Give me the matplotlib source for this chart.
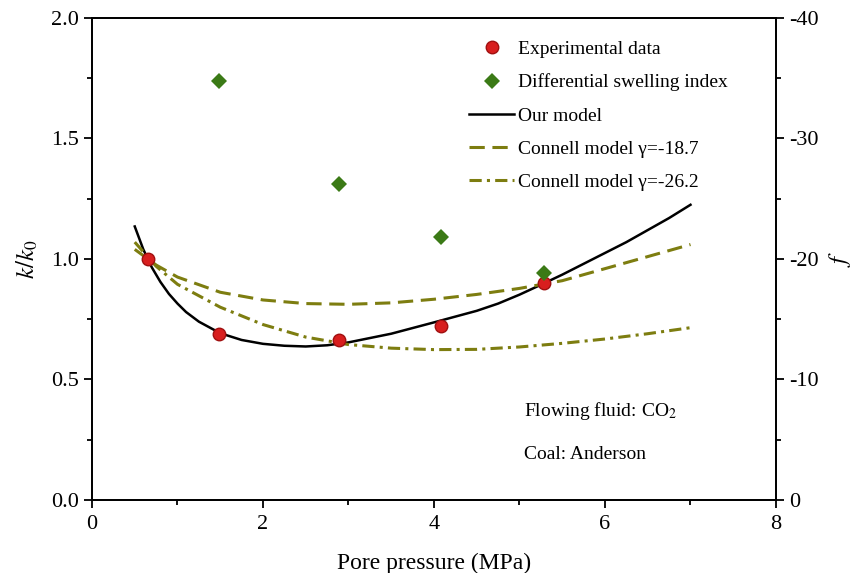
import matplotlib
matplotlib.use("Agg")
import matplotlib.pyplot as plt
from matplotlib.ticker import MultipleLocator

plt.rcParams['font.family'] = ['Liberation Serif', 'DejaVu Serif']
plt.rcParams['mathtext.fontset'] = 'stix'
plt.rcParams['axes.unicode_minus'] = False

# Experimental data (left axis)
p_exp = [0.65, 1.48, 2.89, 4.08, 5.29]
k_exp = [1.0, 0.69, 0.665, 0.72, 0.9]

# Differential swelling index (right axis)
p_f = [1.48, 2.89, 4.08, 5.29]
f_vals = [-34.8, -26.2, -21.8, -18.8]

# Our model
p_model = [0.5, 0.6, 0.7, 0.8, 0.9, 1.0, 1.1, 1.25, 1.5, 1.75, 2.0, 2.25,
           2.5, 2.75, 3.0, 3.5, 4.0, 4.5, 4.75, 5.0, 5.25, 5.5, 5.75, 6.0,
           6.25, 6.5, 6.75, 7.0]
k_model = [1.135, 1.04, 0.965, 0.905, 0.855, 0.815, 0.78, 0.74, 0.692, 0.664,
           0.648, 0.64, 0.637, 0.642, 0.654, 0.69, 0.737, 0.785, 0.815, 0.852,
           0.893, 0.935, 0.98, 1.025, 1.07, 1.12, 1.17, 1.225]

# Connell model gamma = -18.7
p_c1 = [0.5, 0.75, 1.0, 1.5, 2.0, 2.5, 3.0, 3.5, 4.0, 4.5, 5.0, 5.5, 6.0, 6.5, 7.0]
k_c1 = [1.04, 0.975, 0.925, 0.862, 0.83, 0.815, 0.812, 0.818, 0.833, 0.853,
        0.878, 0.91, 0.96, 1.01, 1.06]

# Connell model gamma = -26.2
p_c2 = [0.5, 0.75, 1.0, 1.5, 2.0, 2.5, 3.0, 3.5, 4.0, 4.5, 5.0, 5.5, 6.0, 6.5, 7.0]
k_c2 = [1.07, 0.97, 0.895, 0.80, 0.728, 0.676, 0.645, 0.63, 0.624, 0.625,
        0.635, 0.65, 0.668, 0.69, 0.715]

olive = '#7d7d10'

fig = plt.figure(figsize=(8.55, 5.73), dpi=100)
ax = fig.add_axes([0.1076, 0.1274, 0.8, 0.8412])
ax2 = ax.twinx()

l1, = ax.plot(p_model, k_model, color='black', lw=1.8, label='Our model')
l2, = ax.plot(p_c1, k_c1, color=olive, lw=2.2, ls=(0, (5, 2.5)),
              label='Connell model \u03b3=-18.7')
l3, = ax.plot(p_c2, k_c2, color=olive, lw=2.2, ls=(0, (4, 1.7, 1, 1.7)),
              label='Connell model \u03b3=-26.2')
s1, = ax.plot(p_exp, k_exp, 'o', color='#d81e1e', mec='#a01010', mew=1,
              ms=9, label='Experimental data', zorder=5)
s2, = ax2.plot(p_f, f_vals, 'D', color='#3b7a16', ms=8, mew=0,
               label='Differential swelling index')

ax.set_xlim(0, 8)
ax.set_ylim(0, 2.0)
ax2.set_ylim(0, -40)

ax.xaxis.set_major_locator(MultipleLocator(2))
ax.xaxis.set_minor_locator(MultipleLocator(1))
ax.yaxis.set_major_locator(MultipleLocator(0.5))
ax.yaxis.set_minor_locator(MultipleLocator(0.25))
ax2.yaxis.set_major_locator(MultipleLocator(10))
ax2.yaxis.set_minor_locator(MultipleLocator(5))

for a in (ax, ax2):
    a.tick_params(which='major', direction='out', length=6, width=1.3,
                  labelsize=16)
    a.tick_params(which='minor', direction='out', length=3.5, width=1.3)
    for sp in a.spines.values():
        sp.set_linewidth(1.3)
ax.tick_params(which='both', top=False, right=False)
ax.tick_params(axis='x', pad=5)
ax2.tick_params(which='both', left=False)

ax.set_xlabel('Pore pressure (MPa)', fontsize=17, labelpad=13.5)
ax.set_ylabel(r'$\mathit{k}/\mathit{k}_{\mathrm{0}}$', fontsize=18, labelpad=8)
ax2.set_ylabel(r'$\mathit{f}$', fontsize=18, rotation=90, labelpad=6)

ax.text(5.05, 0.35, 'Flowing fluid: CO$_2$', fontsize=14)
ax.text(5.05, 0.17, 'Coal: Anderson', fontsize=14)

ax.legend([s1, s2, l1, l2, l3],
          [h.get_label() for h in (s1, s2, l1, l2, l3)],
          loc='upper right', bbox_to_anchor=(0.955, 0.99), frameon=False,
          fontsize=14, handlelength=2.3, handletextpad=0.2, labelspacing=0.8)

fig.savefig('out.png', dpi=100)
